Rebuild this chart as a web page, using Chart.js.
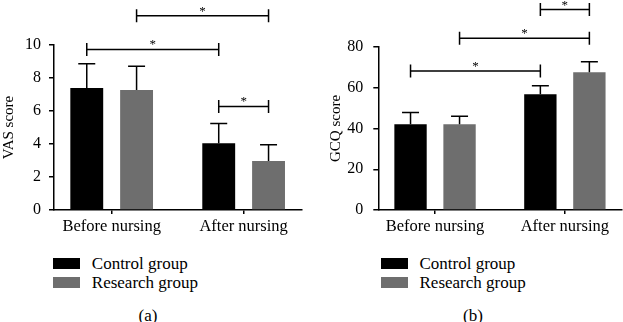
<!DOCTYPE html>
<html>
<head>
<meta charset="utf-8">
<script src="https://cdn.jsdelivr.net/npm/chart.js@4.4.0/dist/chart.umd.min.js"></script>
<style>
  body { margin: 0; background: #fff; width: 623px; height: 322px; position: relative; overflow: hidden;
         font-family: 'Liberation Serif', serif; color: #000; }
  canvas { position: absolute; top: 0; }
  .lg { position: absolute; font-size: 17px; line-height: 19px; white-space: nowrap; }
  .sw { position: absolute; width: 27px; height: 11px; }
  .pl { position: absolute; font-size: 17px; line-height: 20px; transform: translateX(-50%); }
</style>
</head>
<body>
<canvas id="vasChart" width="311" height="245" style="left:0"></canvas>
<canvas id="gcqChart" width="312" height="245" style="left:311px"></canvas>
<div id="legends"></div>
<div class="pl" style="left:148px;top:306px">(a)</div>
<div class="pl" style="left:473px;top:306px">(b)</div>
<script>
const categories = ["Before nursing", "After nursing"];
const groups = ["Control group", "Research group"];
const groupColors = ["#000000", "#6e6e6e"];

// panel (a)
const vasControl = [7.4, 4.04];
const vasControlSd = [1.47, 1.21];
const vasResearch = [7.27, 2.97];
const vasResearchSd = [1.44, 0.99];
// [dataset, bar, dataset, bar, height] for the * brackets
const vasBrackets = [[0, 0, 0, 1, 9.73], [1, 0, 1, 1, 11.78], [0, 1, 1, 1, 6.28]];

// panel (b)
const gcqControl = [42.1, 56.8];
const gcqControlSd = [5.7, 4.2];
const gcqResearch = [42.1, 67.6];
const gcqResearchSd = [3.9, 5.2];
const gcqBrackets = [[0, 0, 0, 1, 68.2], [1, 0, 1, 1, 84.3], [0, 1, 1, 1, 98.4]];

Chart.defaults.font.family = "'Liberation Serif', serif";
Chart.defaults.color = "#000";

function overlay(brackets) {
  return {
    id: "overlay",
    afterDatasetsDraw(chart) {
      const ctx = chart.ctx, y = chart.scales.y;
      ctx.save();
      ctx.strokeStyle = "#000";
      ctx.lineWidth = 1.5;
      // upper error bars
      chart.data.datasets.forEach((ds, d) => {
        chart.getDatasetMeta(d).data.forEach((bar, i) => {
          const top = y.getPixelForValue(ds.data[i].y + ds.sd[i]);
          ctx.beginPath();
          ctx.moveTo(bar.x, bar.y);
          ctx.lineTo(bar.x, top);
          ctx.moveTo(bar.x - 8.5, top);
          ctx.lineTo(bar.x + 8.5, top);
          ctx.stroke();
        });
      });
      // significance brackets
      ctx.fillStyle = "#000";
      ctx.font = "13px 'Liberation Serif', serif";
      ctx.textAlign = "center";
      ctx.textBaseline = "alphabetic";
      brackets.forEach(([d1, i1, d2, i2, v]) => {
        const x1 = chart.getDatasetMeta(d1).data[i1].x;
        const x2 = chart.getDatasetMeta(d2).data[i2].x;
        const py = y.getPixelForValue(v);
        ctx.beginPath();
        ctx.moveTo(x1, py); ctx.lineTo(x2, py);
        ctx.moveTo(x1, py - 6.5); ctx.lineTo(x1, py + 6.5);
        ctx.moveTo(x2, py - 6.5); ctx.lineTo(x2, py + 6.5);
        ctx.stroke();
        ctx.fillText("*", (x1 + x2) / 2, py - 1);
      });
      ctx.restore();
    }
  };
}

function makeChart(id, control, controlSd, research, researchSd, brackets, yMax, yStep, yTitle, axisWidth, pad, tickPad, titlePad) {
  const series = [[control, controlSd], [research, researchSd]];
  return new Chart(document.getElementById(id), {
    type: "bar",
    data: {
      datasets: series.map(([vals, sd], k) => ({
        label: groups[k],
        data: vals.map((v, i) => ({ x: i, y: v })),
        sd: sd,
        backgroundColor: groupColors[k],
        borderWidth: 0,
        categoryPercentage: 0.755,
        barPercentage: 0.66
      }))
    },
    options: {
      responsive: false,
      animation: false,
      layout: { padding: pad },
      plugins: { legend: { display: false }, tooltip: { enabled: false } },
      scales: {
        x: {
          type: "linear", min: -0.437, max: 1.44, offset: false,
          afterBuildTicks: s => { s.ticks = categories.map((c, i) => ({ value: i })); },
          afterFit: s => { s.height = 35; },
          ticks: { callback: v => categories[v], font: { size: 16.5 }, color: "#000", padding: 3, maxRotation: 0, autoSkip: false },
          grid: { offset: false, drawOnChartArea: false, tickLength: 4, color: "#000", lineWidth: 1.5 },
          border: { color: "#000", width: 1.5 }
        },
        y: {
          min: 0, max: yMax,
          afterFit: s => { s.width = axisWidth; },
          title: { display: true, text: yTitle, font: { size: 15 }, color: "#000", padding: { top: titlePad, bottom: 0 } },
          ticks: { stepSize: yStep, font: { size: 16 }, color: "#000", padding: tickPad },
          grid: { drawOnChartArea: false, tickLength: 5, color: "#000", lineWidth: 1.5 },
          border: { color: "#000", width: 1.5 }
        }
      }
    },
    plugins: [overlay(brackets)]
  });
}

makeChart("vasChart", vasControl, vasControlSd, vasResearch, vasResearchSd, vasBrackets,
  10, 2, "VAS score", 54, { left: 0, right: 9.3, top: 45, bottom: 0 }, 8, 0);
makeChart("gcqChart", gcqControl, gcqControlSd, gcqResearch, gcqResearchSd, gcqBrackets,
  80, 20, "GCQ score", 67.3, { left: 0, right: 1, top: 47, bottom: 0 }, 10, 16);

// legends under each panel
const legendLefts = [53.3, 381];
let html = "";
legendLefts.forEach(left => {
  groups.forEach((g, k) => {
    const top = 258.3 + k * 19;
    html += `<div class="sw" style="left:${left}px;top:${top}px;background:${groupColors[k]}"></div>`;
    html += `<div class="lg" style="left:${left + 38.5}px;top:${top - 4}px">${g}</div>`;
  });
});
document.getElementById("legends").innerHTML = html;
</script>
</body>
</html>
